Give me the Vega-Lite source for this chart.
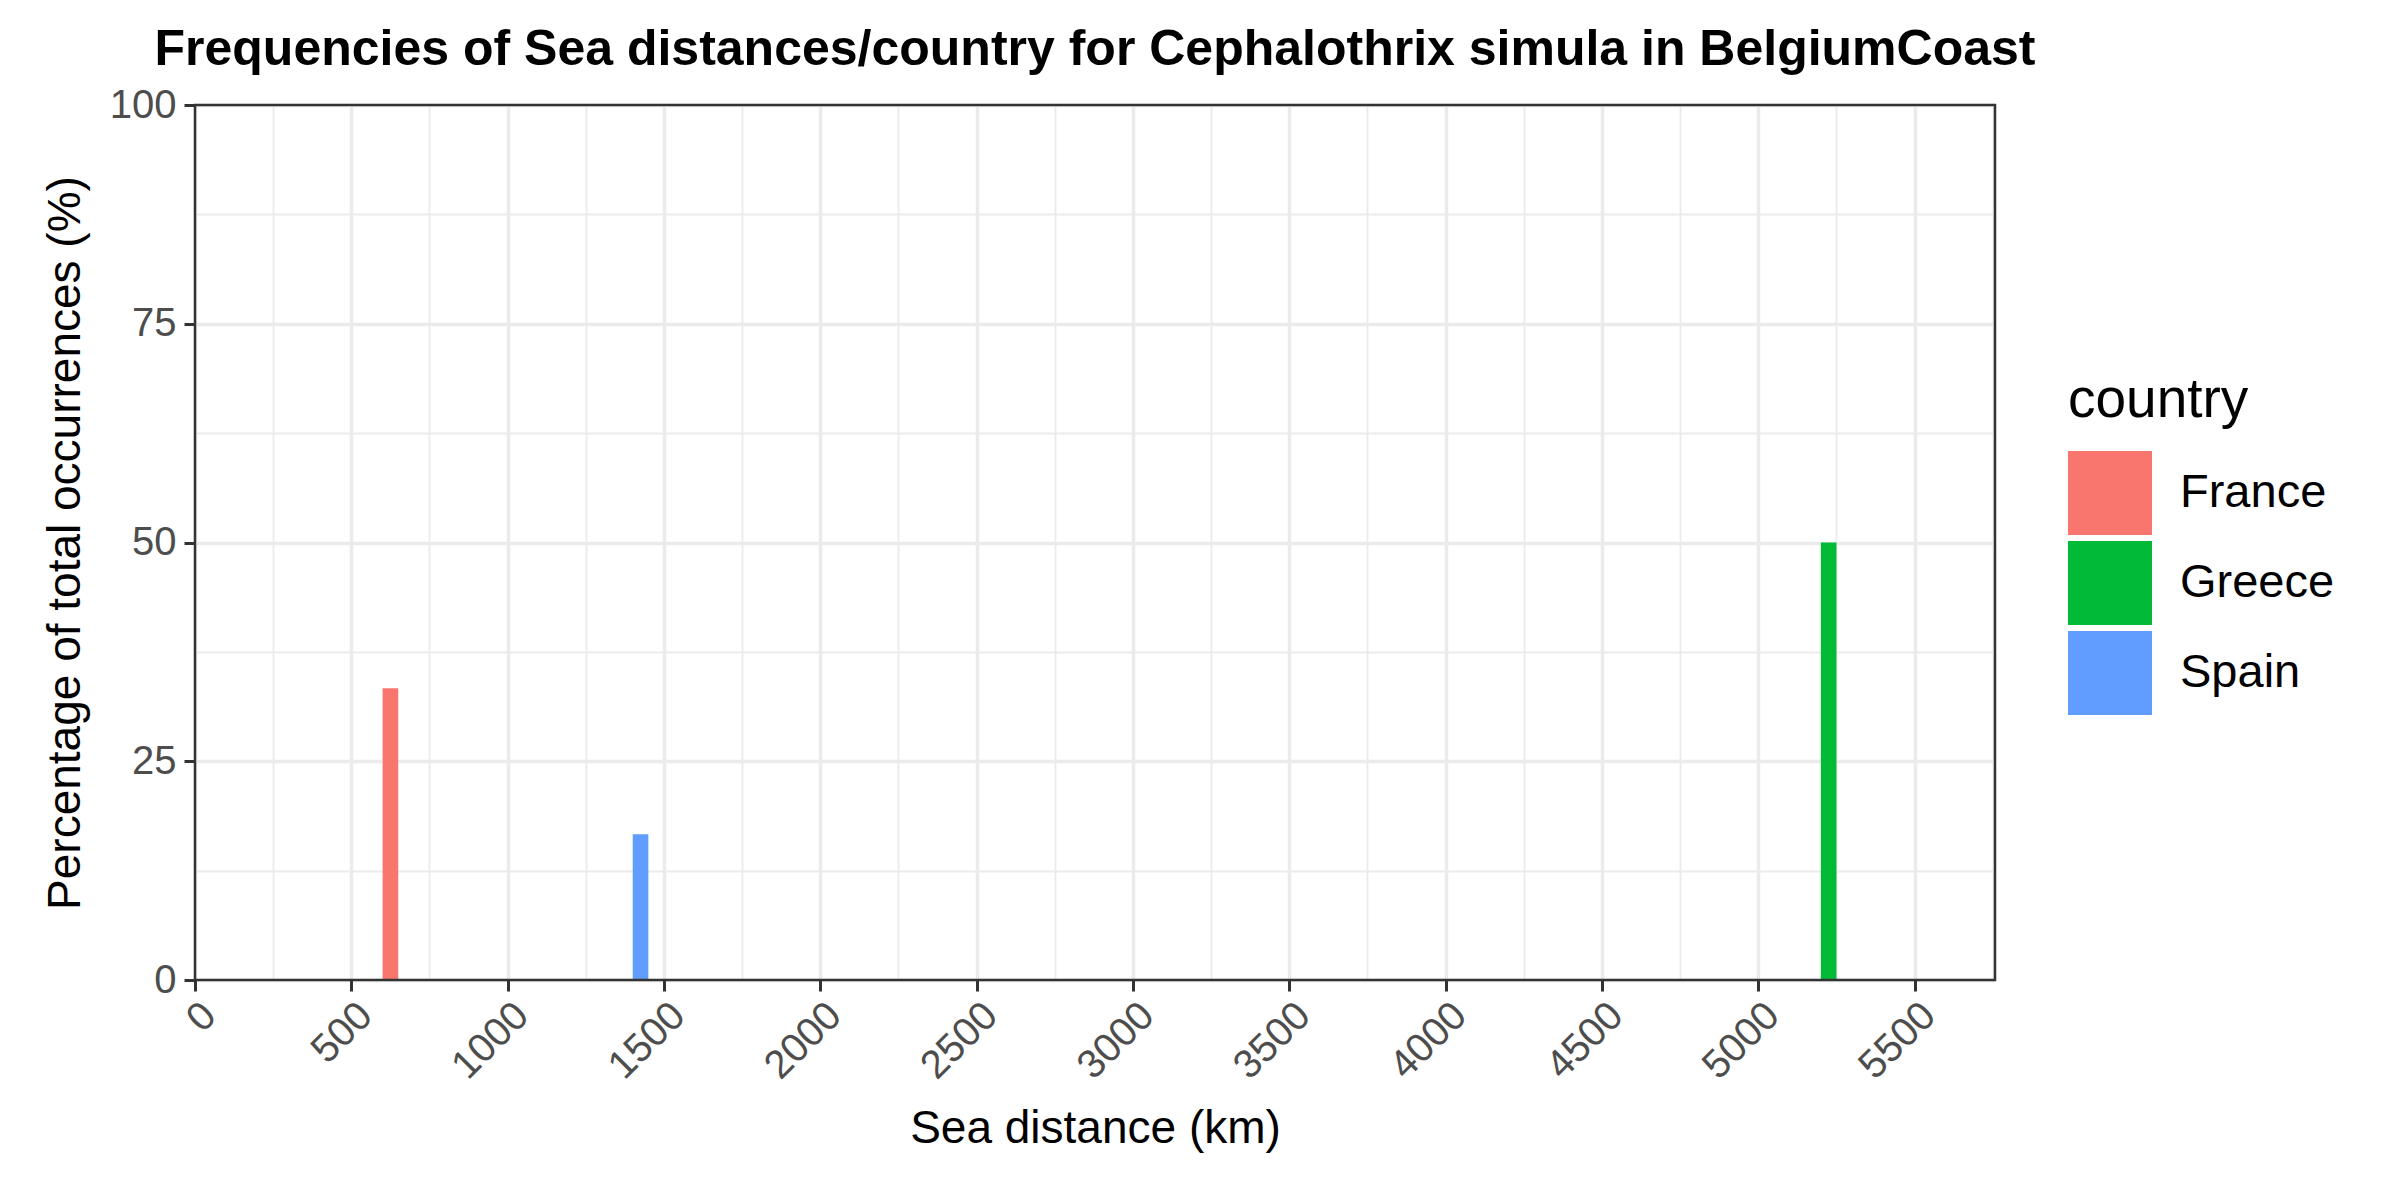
{
  "$schema": "https://vega.github.io/schema/vega-lite/v6.json",
  "autosize": "none",
  "width": 1800,
  "height": 875,
  "padding": {"left": 195, "top": 105, "right": 405, "bottom": 220},
  "background": "white",
  "config": {
    "font": "Liberation Sans",
    "view": {"stroke": null},
    "axis": {
      "domain": false,
      "gridColor": "#EBEBEB",
      "tickColor": "#333333",
      "tickSize": 11,
      "tickWidth": 3,
      "labelColor": "#4D4D4D",
      "labelFont": "Liberation Sans",
      "labelFontSize": 40,
      "titleFont": "Liberation Sans",
      "titleFontSize": 46,
      "titleFontWeight": "normal",
      "titleColor": "black"
    }
  },
  "title": {
    "text": "Frequencies of Sea distances/country for Cephalothrix simula in BelgiumCoast",
    "font": "Liberation Sans",
    "fontSize": 50,
    "fontWeight": "bold",
    "color": "black",
    "anchor": "middle",
    "offset": 10
  },
  "data": {
    "values": [
      {"country": "France", "bin_start": 600, "bin_end": 650, "pct": 33.33},
      {"country": "Spain", "bin_start": 1400, "bin_end": 1450, "pct": 16.67},
      {"country": "Greece", "bin_start": 5200, "bin_end": 5250, "pct": 50}
    ]
  },
  "layer": [
    {
      "mark": {"type": "bar", "opacity": 0},
      "encoding": {
        "x": {
          "field": "bin_start", "type": "quantitative",
          "scale": {"domain": [0, 5757], "nice": false, "zero": false},
          "axis": {"orient": "bottom", "values": [250, 750, 1250, 1750, 2250, 2750, 3250, 3750, 4250, 4750, 5250, 5750], "grid": true, "gridWidth": 1.8, "labels": false, "ticks": false, "title": null}
        },
        "x2": {"field": "bin_end"},
        "y": {
          "field": "pct", "type": "quantitative",
          "scale": {"domain": [0, 100], "nice": false},
          "axis": {"orient": "left", "values": [12.5, 37.5, 62.5, 87.5], "grid": true, "gridWidth": 1.8, "labels": false, "ticks": false, "title": null}
        },
        "y2": {"datum": 0}
      }
    },
    {
      "mark": {"type": "bar", "opacity": 1},
      "encoding": {
        "x": {
          "field": "bin_start", "type": "quantitative",
          "scale": {"domain": [0, 5757], "nice": false, "zero": false},
          "axis": {"orient": "bottom", "values": [0, 500, 1000, 1500, 2000, 2500, 3000, 3500, 4000, 4500, 5000, 5500], "format": "d", "grid": true, "gridWidth": 3.5, "labelAngle": -45, "labelAlign": "right", "labelBaseline": "top", "labelPadding": 4, "labelFlush": false, "labelOverlap": false, "title": "Sea distance (km)", "titlePadding": 20}
        },
        "x2": {"field": "bin_end"},
        "y": {
          "field": "pct", "type": "quantitative",
          "scale": {"domain": [0, 100], "nice": false},
          "axis": {"orient": "left", "values": [0, 25, 50, 75, 100], "format": "d", "grid": true, "gridWidth": 3.5, "labelPadding": 8, "labelFlush": false, "title": "Percentage of total occurrences (%)", "titlePadding": 20}
        },
        "y2": {"datum": 0},
        "color": {
          "field": "country", "type": "nominal",
          "scale": {"domain": ["France", "Greece", "Spain"], "range": ["#F8766D", "#00BA38", "#619CFF"]},
          "legend": {
            "orient": "none",
            "legendX": 1873,
            "legendY": 269,
            "title": "country",
            "titleFont": "Liberation Sans",
            "titleFontSize": 55,
            "titleFontWeight": "normal",
            "titleColor": "black",
            "titleLimit": 1000,
            "titlePadding": 22,
            "labelFont": "Liberation Sans",
            "labelFontSize": 47,
            "labelColor": "black",
            "labelLimit": 1000,
            "labelOffset": 28,
            "symbolType": "square",
            "symbolSize": 7056,
            "symbolStrokeWidth": 0,
            "symbolOpacity": 1,
            "rowPadding": 6
          }
        }
      }
    },
    {
      "data": {"values": [{"panel": "border"}]},
      "mark": {"type": "rect", "filled": false, "stroke": "#333333", "strokeWidth": 2.5},
      "encoding": {
        "x": {"datum": 0, "type": "quantitative", "axis": null},
        "x2": {"datum": 5757},
        "y": {"datum": 0, "type": "quantitative", "axis": null},
        "y2": {"datum": 100}
      }
    }
  ],
  "resolve": {"axis": {"x": "independent", "y": "independent"}}
}
